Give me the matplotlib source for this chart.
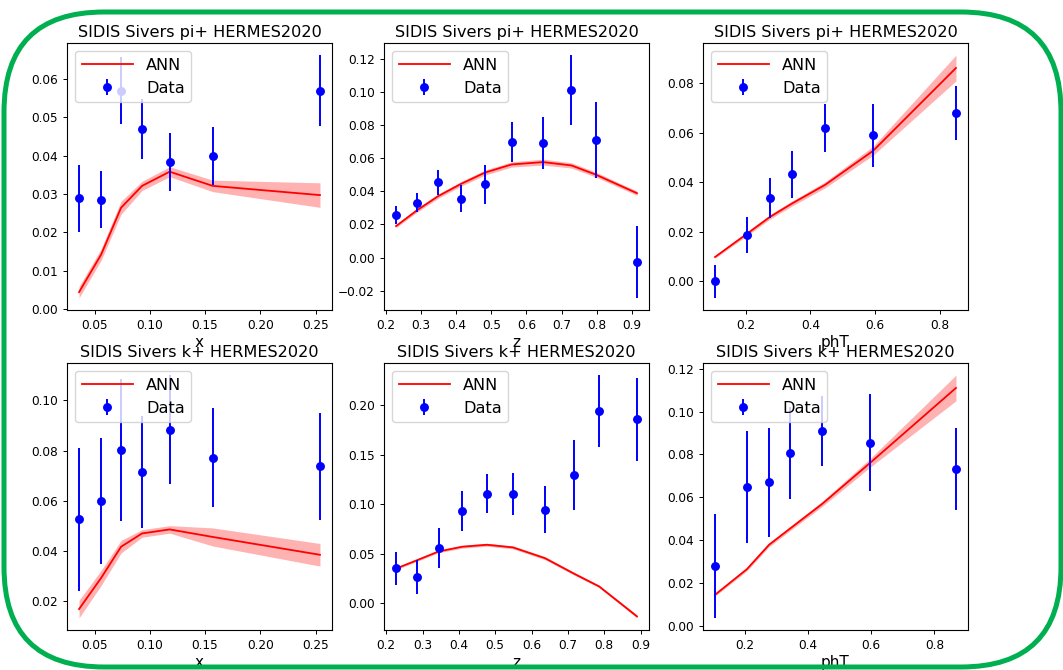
import matplotlib
matplotlib.use("Agg")
import matplotlib.pyplot as plt
import numpy as np
from matplotlib.patches import FancyBboxPatch
from matplotlib.ticker import MultipleLocator

# HERMES2020 Sivers asymmetries, pi+ (top row) and k+ (bottom row)
pi_x = [0.036, 0.056, 0.074, 0.093, 0.118, 0.157, 0.254]
pi_x_data = [0.0289, 0.0285, 0.0569, 0.0469, 0.0383, 0.0399, 0.0569]
pi_x_err = [0.0087, 0.0074, 0.0087, 0.0079, 0.0076, 0.0076, 0.0093]
pi_x_ann = [0.0044, 0.0142, 0.0264, 0.0321, 0.0358, 0.0321, 0.0297]
pi_x_band = [0.0015, 0.0015, 0.0017, 0.0012, 0.0013, 0.0015, 0.0032]

pi_z = [0.228, 0.288, 0.348, 0.413, 0.482, 0.558, 0.647, 0.728, 0.797, 0.915]
pi_z_data = [0.0257, 0.0332, 0.0454, 0.0356, 0.0443, 0.0700, 0.0692, 0.1012, 0.0708, -0.0026]
pi_z_err = [0.0053, 0.0056, 0.0073, 0.0082, 0.0117, 0.0122, 0.0156, 0.0212, 0.0230, 0.0218]
pi_z_ann = [0.0190, 0.0286, 0.0371, 0.0445, 0.0514, 0.0563, 0.0577, 0.0557, 0.0502, 0.0389]
pi_z_band = [0.0010, 0.0012, 0.0013, 0.0014, 0.0015, 0.0016, 0.0018, 0.0016, 0.0015, 0.0013]

pi_pt = [0.105, 0.205, 0.275, 0.343, 0.445, 0.594, 0.850]
pi_pt_data = [0.0000, 0.0188, 0.0337, 0.0432, 0.0619, 0.0590, 0.0679]
pi_pt_err = [0.0067, 0.0073, 0.0081, 0.0094, 0.0096, 0.0127, 0.0109]
pi_pt_ann = [0.0098, 0.0193, 0.0260, 0.0314, 0.0389, 0.0527, 0.0861]
pi_pt_band = [0.0005, 0.0008, 0.0009, 0.0010, 0.0012, 0.0018, 0.0052]

k_x = [0.036, 0.056, 0.074, 0.093, 0.118, 0.157, 0.254]
k_x_data = [0.0526, 0.0600, 0.0801, 0.0714, 0.0883, 0.0771, 0.0738]
k_x_err = [0.0285, 0.0250, 0.0283, 0.0222, 0.0217, 0.0197, 0.0213]
k_x_ann = [0.0169, 0.0293, 0.0417, 0.0470, 0.0486, 0.0456, 0.0385]
k_x_band = [0.0035, 0.0030, 0.0025, 0.0015, 0.0015, 0.0036, 0.0045]

k_z = [0.227, 0.285, 0.344, 0.409, 0.477, 0.549, 0.637, 0.717, 0.786, 0.890]
k_z_data = [0.0351, 0.0262, 0.0559, 0.0930, 0.1107, 0.1107, 0.0944, 0.1291, 0.1942, 0.1857]
k_z_err = [0.0168, 0.0172, 0.0201, 0.0201, 0.0199, 0.0213, 0.0235, 0.0354, 0.0364, 0.0416]
k_z_ann = [0.0348, 0.0433, 0.0521, 0.0569, 0.0589, 0.0562, 0.0453, 0.0296, 0.0167, -0.0136]
k_z_band = [0.0012, 0.0012, 0.0013, 0.0014, 0.0015, 0.0015, 0.0015, 0.0014, 0.0013, 0.0015]

k_pt = [0.106, 0.207, 0.277, 0.342, 0.445, 0.596, 0.868]
k_pt_data = [0.0279, 0.0647, 0.0669, 0.0807, 0.0908, 0.0856, 0.0733]
k_pt_err = [0.0243, 0.0263, 0.0254, 0.0215, 0.0164, 0.0229, 0.0191]
k_pt_ann = [0.0144, 0.0264, 0.0378, 0.0452, 0.0569, 0.0760, 0.1111]
k_pt_band = [0.0006, 0.0008, 0.0009, 0.0010, 0.0012, 0.0020, 0.0060]

panels = [
    ("SIDIS Sivers pi+ HERMES2020", "x", pi_x, pi_x_data, pi_x_err, pi_x_ann, pi_x_band),
    ("SIDIS Sivers pi+ HERMES2020", "z", pi_z, pi_z_data, pi_z_err, pi_z_ann, pi_z_band),
    ("SIDIS Sivers pi+ HERMES2020", "phT", pi_pt, pi_pt_data, pi_pt_err, pi_pt_ann, pi_pt_band),
    ("SIDIS Sivers k+ HERMES2020", "x", k_x, k_x_data, k_x_err, k_x_ann, k_x_band),
    ("SIDIS Sivers k+ HERMES2020", "z", k_z, k_z_data, k_z_err, k_z_ann, k_z_band),
    ("SIDIS Sivers k+ HERMES2020", "phT", k_pt, k_pt_data, k_pt_err, k_pt_ann, k_pt_band),
]

W, H = 1063, 670
fig = plt.figure(figsize=(W / 100, H / 100), dpi=100)

lefts = [67, 384, 703]
tops = [43, 363]
aw, ah = 265, 267

for i, (title, xlabel, xs, ys, yerr, ann, band) in enumerate(panels):
    r, c = divmod(i, 3)
    ax = fig.add_axes([lefts[c] / W, (H - tops[r] - ah) / H, aw / W, ah / H])
    xs = np.asarray(xs)
    ann = np.asarray(ann)
    band = np.asarray(band)
    ax.plot(xs, ann, color="red", lw=1.3, label="ANN")
    ax.fill_between(xs, ann - band, ann + band, color="red", alpha=0.3, lw=0)
    ax.errorbar(xs, ys, yerr=yerr, fmt="o", color="blue", ms=5.4, elinewidth=1.4,
                label="Data")
    ax.set_title(title, fontsize=11.6, pad=4)
    ax.set_xlabel(xlabel, fontsize=11, labelpad=2)
    if xlabel == "z":
        ax.xaxis.set_major_locator(MultipleLocator(0.1))
    ax.tick_params(labelsize=8.7, length=3, width=0.7)
    for s in ax.spines.values():
        s.set_linewidth(0.8)
    ax.legend(loc="upper left", fontsize=11.6, handlelength=3.2)

# rounded green frame around the whole slide
frame = FancyBboxPatch((4 / 100, (H - 667) / 100), (1061 - 4) / 100, (667 - 12) / 100,
                       boxstyle="round,pad=0,rounding_size=1.0",
                       transform=fig.dpi_scale_trans, fill=False,
                       edgecolor="#00b050", lw=3.6, zorder=10)
fig.patches.append(frame)

fig.savefig("out.png", dpi=100)
